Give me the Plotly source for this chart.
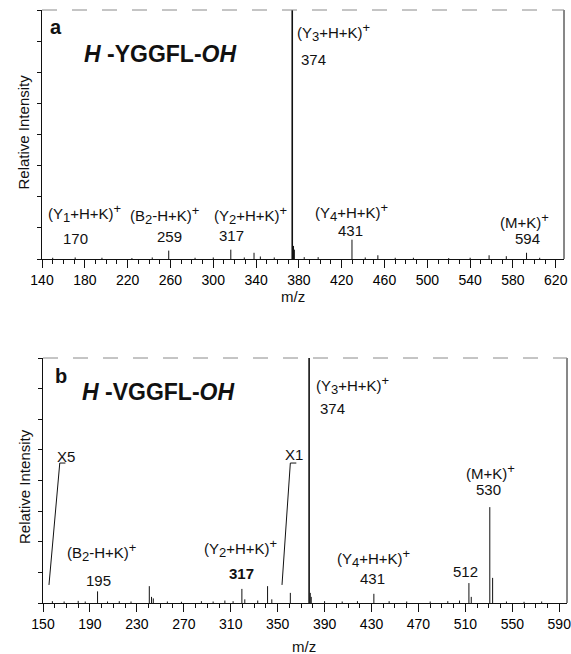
import plotly.graph_objects as go

W, H = 571, 654
FONT = "Liberation Sans, Arial, Helvetica, sans-serif"
INK = "#111111"

# ---------------- data: panel a (H-YGGFL-OH) ----------------
a_mz = [150, 171, 196, 224, 243, 258.4, 283, 300, 316.4, 329, 338.1, 344, 357,
        375.0, 375.8, 385, 398, 429.6, 442, 453.8, 470, 487, 520, 540, 557.7,
        573.8, 592.7, 605]
a_int = [0.04, 0.05, 0.04, 0.03, 0.05, 0.27, 0.04, 0.05, 0.30, 0.05, 0.20, 0.08,
         0.05, 0.42, 0.30, 0.06, 0.06, 0.62, 0.05, 0.12, 0.04, 0.04, 0.03, 0.04,
         0.12, 0.09, 0.20, 0.04]
a_main_mz = [373.8]
a_main_int = [9.0]

# ---------------- data: panel b (H-VGGFL-OH) ----------------
b_mz = [158, 168, 180, 186, 196.5, 205, 215, 225, 240.6, 242.5, 244, 256, 268,
        285, 295, 305, 312, 319.5, 322, 333, 341.4, 345, 360.8, 377.8, 378.6,
        390, 405, 418, 432, 445, 460, 480, 495, 505, 513, 515, 530.8, 533.2,
        545, 560, 575]
b_int = [0.06, 0.05, 0.07, 0.05, 0.38, 0.05, 0.06, 0.05, 0.55, 0.20, 0.15, 0.05,
         0.04, 0.06, 0.05, 0.08, 0.06, 0.46, 0.12, 0.08, 0.55, 0.12, 0.33, 0.33,
         0.20, 0.06, 0.05, 0.06, 0.30, 0.06, 0.05, 0.05, 0.06, 0.08, 0.65, 0.20,
         3.13, 0.82, 0.05, 0.04, 0.05]
b_main_mz = [376.8]
b_main_int = [9.0]

# axis settings (ranges / ticks)
a_range = [140, 627.7]
a_tick0, a_dtick = 140, 40
b_range = [150, 596.6]
b_tick0, b_dtick = 150, 40
y_range = [0, 8]


def sb(t):
    return f"<sub><span style='font-size:13px'>{t}</span></sub>"


def sp(t):
    return f"<sup><span style='font-size:13px'>{t}</span></sup>"


# ---------------- peak labels ----------------
a_labels = [
    (f"(Y{sb(1)}+H+K){sp('+')}", 180.0, 1.48),
    ("170", 171.6, 0.67),
    (f"(B{sb(2)}-H+K){sp('+')}", 254.4, 1.41),
    ("259", 259.0, 0.71),
    (f"(Y{sb(2)}+H+K){sp('+')}", 334.9, 1.41),
    ("317", 316.7, 0.74),
    (f"(Y{sb(3)}+H+K){sp('+')}", 412.6, 7.30),
    ("374", 394.0, 6.40),
    (f"(Y{sb(4)}+H+K){sp('+')}", 428.8, 1.51),
    ("431", 428.4, 0.93),
    (f"(M+K){sp('+')}", 590.7, 1.25),
    ("594", 593.5, 0.67),
]
b_labels = [
    (f"(B{sb(2)}-H+K){sp('+')}", 199.9, 1.68),
    ("195", 197.6, 0.75),
    (f"(Y{sb(2)}+H+K){sp('+')}", 318.0, 1.79),
    ("<b>317</b>", 318.9, 0.97),
    (f"(Y{sb(3)}+H+K){sp('+')}", 413.5, 7.12),
    ("374", 396.4, 6.36),
    (f"(M+K){sp('+')}", 531.6, 4.29),
    ("530", 529.5, 3.69),
    (f"(Y{sb(4)}+H+K){sp('+')}", 431.9, 1.46),
    ("431", 430.8, 0.81),
    ("512", 510.3, 1.02),
    ("X5", 169.4, 4.80),
    ("X1", 364.2, 4.84),
]
# scale-change markers (x5 / x1) leader lines
x5_line_x = [155.1, 164.3, 169.1]
x5_line_y = [0.59, 4.57, 4.57]
x1_line_x = [353.7, 360.8, 365.9]
x1_line_y = [0.59, 4.57, 4.57]


def sticks(mz, inten):
    xs, ys = [], []
    for m, v in zip(mz, inten):
        xs += [m, m, None]
        ys += [0, v, None]
    return xs, ys


fig = go.Figure()

for mz, it, w, xa, ya in ((a_mz, a_int, 1, "x", "y"), (a_main_mz, a_main_int, 1.6, "x", "y"),
                          (b_mz, b_int, 1, "x2", "y2"), (b_main_mz, b_main_int, 1.6, "x2", "y2")):
    xs, ys = sticks(mz, it)
    fig.add_trace(go.Scatter(x=xs, y=ys, mode="lines", line=dict(color=INK, width=w),
                             xaxis=xa, yaxis=ya, hoverinfo="skip", showlegend=False))
for lx, ly in ((x5_line_x, x5_line_y), (x1_line_x, x1_line_y)):
    fig.add_trace(go.Scatter(x=lx, y=ly, mode="lines", line=dict(color=INK, width=1),
                             xaxis="x2", yaxis="y2", hoverinfo="skip", showlegend=False))


def xaxis(rng, tick0, dtick, domain, anchor):
    return dict(range=rng, domain=domain, anchor=anchor, tick0=tick0, dtick=dtick,
                automargin=False, ticklabeloverflow="allow",
                ticks="outside", ticklen=8, tickwidth=1, tickcolor=INK,
                showline=True, linecolor=INK, linewidth=1, showgrid=False,
                zeroline=False, fixedrange=True,
                tickfont=dict(family=FONT, size=14, color="#000"),
                minor=dict(dtick=10, ticks="outside", ticklen=4, tickcolor=INK,
                           showgrid=False))


def yaxis(domain, anchor):
    return dict(range=y_range, domain=domain, anchor=anchor, dtick=1,
                automargin=False,
                ticks="outside", ticklen=4, tickcolor=INK, showticklabels=False,
                showline=True, linecolor=INK, linewidth=1, showgrid=False,
                zeroline=False, fixedrange=True)


fig.update_layout(
    template="none",
    width=W, height=H, autosize=False,
    margin=dict(l=0, r=0, t=0, b=0, pad=0, autoexpand=False),
    paper_bgcolor="white", plot_bgcolor="white",
    font=dict(family=FONT, color=INK),
    xaxis=xaxis(a_range, a_tick0, a_dtick, [42 / W, 564 / W], "y"),
    yaxis=yaxis([1 - 259 / H, 1 - 10 / H], "x"),
    xaxis2=xaxis(b_range, b_tick0, b_dtick, [43 / W, 567 / W], "y2"),
    yaxis2=yaxis([1 - 603 / H, 1 - 358 / H], "x2"),
)

# frame: right solid, top faint
for xr, yr in (("x", "y"), ("x2", "y2")):
    fig.add_shape(type="line", xref=f"{xr} domain", yref=f"{yr} domain",
                  x0=1, x1=1, y0=0, y1=1, line=dict(color=INK, width=1))
    fig.add_shape(type="line", xref=f"{xr} domain", yref=f"{yr} domain",
                  x0=0, x1=1, y0=1, y1=1, line=dict(color="#8a8a8a", width=1, dash="longdash"))

ann = []
for t, x, y in a_labels:
    ann.append(dict(text=t, x=x, y=y, xref="x", yref="y", showarrow=False,
                    xanchor="center", yanchor="middle",
                    font=dict(family=FONT, size=15, color=INK)))
for t, x, y in b_labels:
    ann.append(dict(text=t, x=x, y=y, xref="x2", yref="y2", showarrow=False,
                    xanchor="center", yanchor="middle",
                    font=dict(family=FONT, size=15, color=INK)))

# panel letters and peptide names
ann.append(dict(text="<b>a</b>", x=153, y=7.46, xref="x", yref="y", showarrow=False,
                xanchor="center", yanchor="middle",
                font=dict(family=FONT, size=20, color=INK)))
ann.append(dict(text="<b><i>H</i> -YGGFL-<i>OH</i></b>", x=250.7, y=6.58, xref="x",
                yref="y", showarrow=False, xanchor="center", yanchor="middle",
                font=dict(family=FONT, size=23, color=INK)))
ann.append(dict(text="<b>b</b>", x=165, y=7.42, xref="x2", yref="y2", showarrow=False,
                xanchor="center", yanchor="middle",
                font=dict(family=FONT, size=20, color=INK)))
ann.append(dict(text="<b><i>H</i> -VGGFL-<i>OH</i></b>", x=248.4, y=6.9, xref="x2",
                yref="y2", showarrow=False, xanchor="center", yanchor="middle",
                font=dict(family=FONT, size=23, color=INK)))

# axis titles
for xp, yp in ((23, 132.5), (24, 487)):
    ann.append(dict(text="Relative Intensity", x=xp / W, y=1 - yp / H, xref="paper",
                    yref="paper", showarrow=False, textangle=-90,
                    xanchor="center", yanchor="middle",
                    font=dict(family=FONT, size=15, color=INK)))
for xp, yp in ((293, 296), (304, 646)):
    ann.append(dict(text="m/z", x=xp / W, y=1 - yp / H, xref="paper", yref="paper",
                    showarrow=False, xanchor="center", yanchor="middle",
                    font=dict(family=FONT, size=15, color=INK)))

fig.update_layout(annotations=ann)
fig.write_html(
    "out.html",
    post_script="document.body.style.margin='0';document.body.style.padding='0';"
                "document.documentElement.style.overflow='hidden';",
)
